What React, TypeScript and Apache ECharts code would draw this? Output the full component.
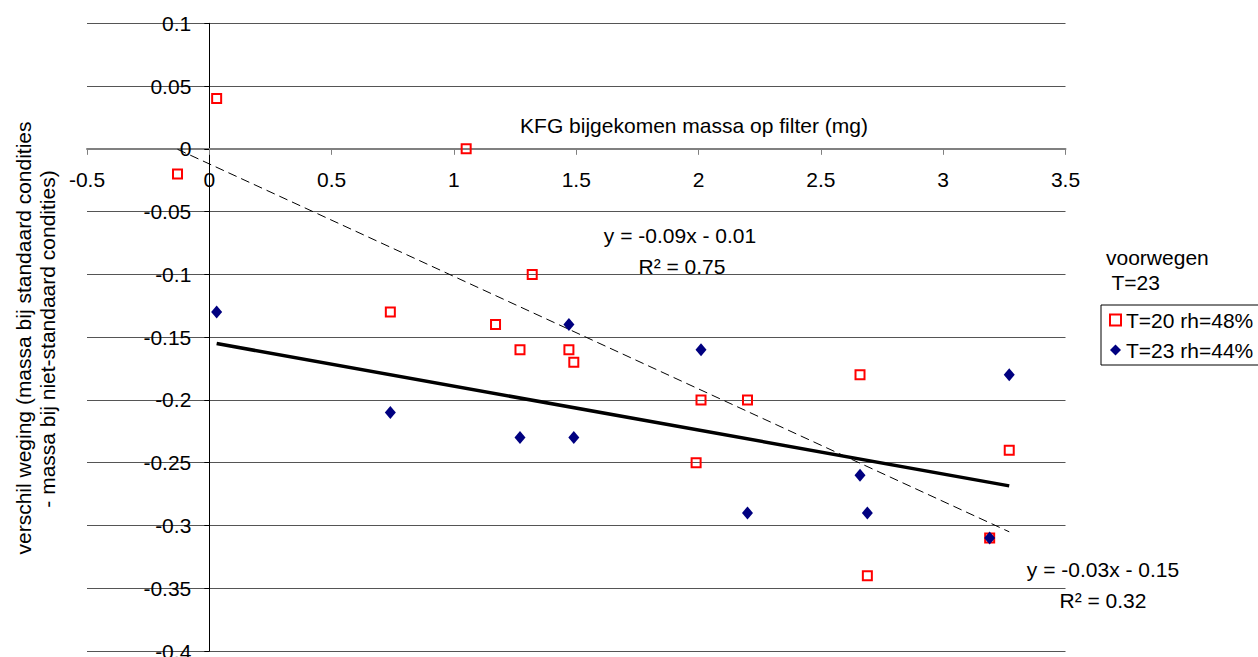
import React, { useEffect, useRef } from "react";
import * as echarts from "echarts";

// ---- Data ----
const redName = "T=20 rh=48%";
const redX = [0.03, -0.13, 1.05, 1.32, 0.74, 1.17, 1.27, 1.47, 1.49, 2.01, 2.2, 1.99, 2.66, 3.27, 2.69, 3.19];
const redY = [0.04, -0.02, 0.0, -0.1, -0.13, -0.14, -0.16, -0.16, -0.17, -0.2, -0.2, -0.25, -0.18, -0.24, -0.34, -0.31];

const blueName = "T=23 rh=44%";
const blueX = [0.03, 0.74, 1.47, 1.27, 1.49, 2.01, 3.27, 2.2, 2.69, 2.66, 3.19];
const blueY = [-0.13, -0.21, -0.14, -0.23, -0.23, -0.16, -0.18, -0.29, -0.29, -0.26, -0.31];

const redEquation = ["y = -0.09x - 0.01", "R² = 0.75"];
const blueEquation = ["y = -0.03x - 0.15", "R² = 0.32"];

const xTitle = "KFG bijgekomen massa op filter (mg)";
const yTitleLines = ["verschil weging (massa bij standaard condities", "- massa bij niet-standaard condities)"];
const legendTitle = ["voorwegen", " T=23"];

const X_MIN = -0.5, X_MAX = 3.5, X_STEP = 0.5;
const Y_MIN = -0.4, Y_MAX = 0.1, Y_STEP = 0.05;

function fit(xs: number[], ys: number[]) {
  const n = xs.length;
  const mx = xs.reduce((a, b) => a + b, 0) / n;
  const my = ys.reduce((a, b) => a + b, 0) / n;
  let sxy = 0, sxx = 0;
  for (let i = 0; i < n; i++) {
    sxy += (xs[i] - mx) * (ys[i] - my);
    sxx += (xs[i] - mx) * (xs[i] - mx);
  }
  const b = sxy / sxx;
  const a = my - b * mx;
  const x0 = Math.min(...xs);
  const x1 = Math.max(...xs);
  return [[x0, a + b * x0], [x1, a + b * x1]];
}

const FONT = "Liberation Sans, Arial, sans-serif";
const W = 1258, H = 657;
const G = { left: 87, right: 192.5, top: 23.3, bottom: 6 };

export default function App() {
  const ref = useRef<HTMLDivElement>(null);
  useEffect(() => {
    if (!ref.current) return;
    const chart = echarts.init(ref.current, undefined, { renderer: "svg" });
    const gw = W - G.left - G.right;
    const gh = H - G.top - G.bottom;
    // shift axes so they cross at the origin
    const xOffset = -(gh * (0 - Y_MIN)) / (Y_MAX - Y_MIN);
    const yOffset = -(gw * (0 - X_MIN)) / (X_MAX - X_MIN);
    const txt = (text: string, x: number, y: number, extra: any = {}) => ({
      type: "text",
      x,
      y,
      ...extra,
      style: {
        text,
        fill: "#000",
        font: `21px ${FONT}`,
        align: "center",
        verticalAlign: "middle",
        ...(extra.style || {}),
      },
    });
    chart.setOption({
      animation: false,
      backgroundColor: "#fff",
      textStyle: { fontFamily: FONT },
      grid: {
        left: G.left,
        right: G.right,
        top: G.top,
        bottom: G.bottom,
        containLabel: false,
        outerBoundsMode: "none",
      },
      xAxis: {
        type: "value",
        min: X_MIN,
        max: X_MAX,
        interval: X_STEP,
        position: "bottom",
        offset: xOffset,
        axisLine: { onZero: false, lineStyle: { color: "#808080", width: 2 } },
        axisTick: { show: true, length: 6, lineStyle: { color: "#808080", width: 1 } },
        axisLabel: { fontSize: 21, color: "#000", margin: 20, fontFamily: FONT, showMinLabel: true, showMaxLabel: true },
        splitLine: { show: false },
      },
      yAxis: {
        type: "value",
        min: Y_MIN,
        max: Y_MAX,
        interval: Y_STEP,
        position: "left",
        offset: yOffset,
        axisLine: { onZero: false, lineStyle: { color: "#000", width: 1 } },
        axisTick: { show: true, length: 5, lineStyle: { color: "#000", width: 1 } },
        axisLabel: { fontSize: 21, color: "#000", margin: 18, fontFamily: FONT, showMinLabel: true, showMaxLabel: true },
        splitLine: { show: true, lineStyle: { color: "#555", width: 1 } },
      },
      legend: {
        orient: "vertical",
        left: 1101,
        top: 305,
        backgroundColor: "#fff",
        borderColor: "#000",
        borderWidth: 1,
        padding: [3, 20, 3, 8],
        itemGap: 6,
        itemWidth: 11,
        itemHeight: 11,
        textStyle: { fontSize: 21, color: "#000", fontFamily: FONT, lineHeight: 24 },
        data: [
          { name: redName, icon: "rect", itemStyle: { color: "#fff", borderColor: "#ff0000", borderWidth: 2 } },
          { name: blueName, icon: "diamond", itemStyle: { color: "#000080" } },
        ],
      },
      series: [
        {
          name: "redTrend",
          type: "line",
          data: fit(redX, redY),
          symbol: "none",
          lineStyle: { color: "#000", width: 1, type: [9, 5] },
          silent: true,
          z: 3,
        },
        {
          name: "blueTrend",
          type: "line",
          data: fit(blueX, blueY),
          symbol: "none",
          lineStyle: { color: "#000", width: 3.5 },
          silent: true,
          z: 3,
        },
        {
          name: redName,
          type: "scatter",
          symbol: "rect",
          symbolSize: 9,
          data: redX.map((x, i) => [x, redY[i]]),
          itemStyle: { color: "rgba(255,255,255,0)", borderColor: "#ff0000", borderWidth: 2, opacity: 1 },
          z: 4,
        },
        {
          name: blueName,
          type: "scatter",
          symbol: "diamond",
          symbolSize: [11, 13],
          data: blueX.map((x, i) => [x, blueY[i]]),
          itemStyle: { color: "#000080", opacity: 1 },
          z: 5,
        },
      ],
      graphic: [
        txt(xTitle, 694, 125),
        txt(redEquation[0], 680, 235),
        txt(redEquation[1], 682, 266),
        txt(blueEquation[0], 1103, 569),
        txt(blueEquation[1], 1103, 600),
        txt(legendTitle[0], 1106, 257, { style: { align: "left" } }),
        txt(legendTitle[1], 1106, 282, { style: { align: "left" } }),
        txt(yTitleLines[0], 23, 338, { rotation: Math.PI / 2 }),
        txt(yTitleLines[1], 47, 339, { rotation: Math.PI / 2 }),
      ],
    });
    return () => chart.dispose();
  }, []);
  return <div ref={ref} style={{ position: "absolute", left: 0, top: 0, width: W, height: H }} />;
}
